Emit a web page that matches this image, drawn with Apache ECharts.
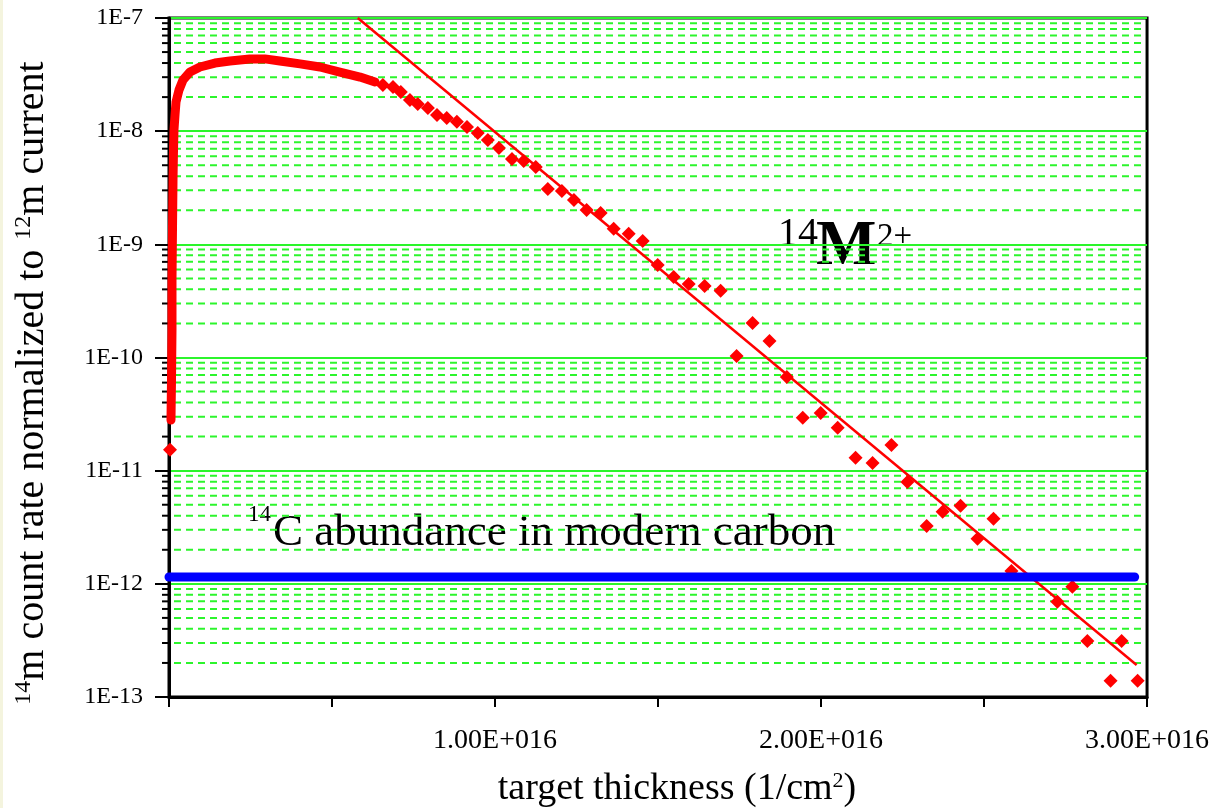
<!DOCTYPE html>
<html>
<head>
<meta charset="utf-8">
<script src="https://cdn.jsdelivr.net/npm/echarts@6/dist/echarts.min.js"></script>
<style>
html,body{margin:0;padding:0;background:#ffffff;}
#chart{width:1212px;height:808px;}
</style>
</head>
<body>
<div id="chart"></div>
<script>
// ---- data ----
const xMin = 0, xMax = 3e16, xStep = 5e15;
const yMin = 1e-13, yMax = 1e-7;
const minorMultipliers = [2, 3, 4, 5, 6, 7, 8, 9];
const decades = [1e-13, 1e-12, 1e-11, 1e-10, 1e-9, 1e-8];

// dense measured curve (overlapping markers near the start)
const curveX = [6.1e13, 7.7e13, 9.2e13, 9.2e13, 1.07e14, 1.23e14, 1.38e14, 1.53e14, 1.84e14, 2.15e14, 3.07e14, 4.29e14, 6.44e14, 9.5e14, 1.41e15, 1.87e15, 2.48e15, 2.94e15, 3.40e15, 4.02e15, 4.63e15, 5.24e15, 5.86e15, 6.32e15];
const curveY = [2.8e-11, 6.3e-11, 1.75e-10, 4.85e-10, 1.34e-9, 3.7e-9, 6.8e-9, 1.03e-8, 1.39e-8, 1.81e-8, 2.31e-8, 2.83e-8, 3.33e-8, 3.69e-8, 4.0e-8, 4.17e-8, 4.35e-8, 4.35e-8, 4.17e-8, 3.93e-8, 3.69e-8, 3.33e-8, 3.01e-8, 2.72e-8];

// discrete measured points (diamonds), x in units of 1E16
const dotX16 = [0.0031,0.656,0.687,0.711,0.739,0.763,0.794,0.822,0.852,0.883,0.914,0.947,0.978,1.012,1.052,1.088,1.125,1.162,1.205,1.242,1.281,1.324,1.364,1.410,1.453,1.499,1.548,1.594,1.643,1.692,1.741,1.790,1.842,1.895,1.944,1.999,2.051,2.106,2.158,2.216,2.265,2.324,2.373,2.428,2.480,2.529,2.584,2.725,2.771,2.817,2.888,2.922,2.971];
const dotY = [1.53e-11,2.56e-8,2.46e-8,2.22e-8,1.89e-8,1.74e-8,1.60e-8,1.39e-8,1.31e-8,1.21e-8,1.09e-8,9.64e-9,8.36e-9,7.11e-9,5.68e-9,5.46e-9,4.83e-9,3.08e-9,2.96e-9,2.47e-9,2.01e-9,1.89e-9,1.37e-9,1.24e-9,1.07e-9,6.58e-10,5.15e-10,4.47e-10,4.29e-10,3.88e-10,1.03e-10,2.02e-10,1.40e-10,6.74e-11,2.93e-11,3.24e-11,2.39e-11,1.30e-11,1.17e-11,1.69e-11,7.96e-12,3.25e-12,4.33e-12,4.89e-12,2.50e-12,3.75e-12,1.30e-12,6.93e-13,9.40e-13,3.13e-13,1.39e-13,3.13e-13,1.39e-13];

// exponential fit line (end points)
const fitX = [0.579e16, 2.968e16];
const fitY = [1e-7, 1.92e-13];

// 14C abundance in modern carbon
const abundX = [0, 2.962e16];
const abundY = [1.15e-12, 1.15e-12];

const xTickLabels = {1: '1.00E+016', 2: '2.00E+016', 3: '3.00E+016'};

// ---- build ----
const pairs = (xs, ys) => xs.map((x, i) => [x, ys[i]]);
const minorValues = [];
decades.forEach(d => minorMultipliers.forEach(m => minorValues.push([0, d * m])));

const FONT = 'Liberation Serif';
const GREEN = '#2cf52c';

const chart = echarts.init(document.getElementById('chart'), null, {renderer: 'canvas'});
chart.setOption({
  animation: false,
  backgroundColor: '#ffffff',
  grid: {left: 169, top: 18, width: 979, height: 679, show: true, backgroundColor: '#ffffff', borderColor: '#000', borderWidth: 3},
  xAxis: {
    type: 'value', min: xMin, max: xMax, interval: xStep,
    axisLine: {show: true, lineStyle: {color: '#000', width: 3}},
    axisTick: {show: true, inside: false, length: 10, lineStyle: {color: '#000', width: 2}},
    splitLine: {show: false},
    axisLabel: {
      margin: 30, fontFamily: FONT, fontSize: 28, color: '#000',
      formatter: v => { const k = Math.round(v / 1e16); return (Math.abs(v / 1e16 - k) < 1e-9 && xTickLabels[k]) ? xTickLabels[k] : ''; }
    }
  },
  yAxis: {
    type: 'log', logBase: 10, min: yMin, max: yMax,
    axisLine: {show: true, lineStyle: {color: '#000', width: 3}},
    axisTick: {show: true, inside: false, length: 14, lineStyle: {color: '#000', width: 2}},
    minorTick: {show: false},
    splitLine: {show: true, lineStyle: {color: GREEN, width: 2, type: 'solid'}},
    axisLabel: {
      margin: 26, fontFamily: FONT, fontSize: 24, color: '#000',
      formatter: v => '1E' + Math.round(Math.log10(v))
    }
  },
  graphic: [
    {type: 'rect', left: 0, top: 0, shape: {width: 3, height: 808}, style: {fill: '#f4f4de'}},
    {type: 'text', x: 32, y: 383, rotation: Math.PI / 2,
      style: {text: '{s|14}m count rate normalized to {s|12}m current', fill: '#000', align: 'center', verticalAlign: 'middle',
        fontSize: 40, fontFamily: FONT,
        rich: {s: {fontSize: 24, fontFamily: FONT, verticalAlign: 'top', lineHeight: 40, fill: '#000'}}}},
    {type: 'text', x: 677, y: 789,
      style: {text: 'target thickness (1/cm{s|2})', fill: '#000', align: 'center', verticalAlign: 'middle',
        fontSize: 38, fontFamily: FONT,
        rich: {s: {fontSize: 22, fontFamily: FONT, verticalAlign: 'top', lineHeight: 38, fill: '#000'}}}},
    {type: 'text', x: 778, y: 234.5, style: {text: '14', fill: '#000', fontSize: 40, fontFamily: FONT, verticalAlign: 'middle', align: 'left'}},
    {type: 'text', x: 816, y: 247, style: {text: 'M', fill: '#000', fontSize: 64, fontWeight: 'bold', fontFamily: FONT, verticalAlign: 'middle', align: 'left'}},
    {type: 'text', x: 877, y: 237, style: {text: '2+', fill: '#000', fontSize: 33, fontFamily: FONT, verticalAlign: 'middle', align: 'left'}},
    {type: 'text', x: 248, y: 515, style: {text: '14', fill: '#000', fontSize: 23, fontFamily: FONT, verticalAlign: 'middle', align: 'left'}},
    {type: 'text', x: 273, y: 533.5, style: {text: 'C abundance in modern carbon', fill: '#000', fontSize: 45, fontFamily: FONT, verticalAlign: 'middle', align: 'left'}}
  ],
  series: [
    {
      type: 'custom', name: 'minor', data: minorValues, clip: false, z: 1, silent: true,
      renderItem: (params, api) => {
        const v = api.value(1);
        const p0 = api.coord([xMin, v]);
        const p1 = api.coord([xMax, v]);
        return {type: 'group', children: [
          {type: 'line', shape: {x1: p0[0] + 5, y1: p0[1], x2: p1[0] - 2, y2: p1[1]}, style: {stroke: GREEN, lineWidth: 2, lineDash: [7, 5]}},
          {type: 'line', shape: {x1: p0[0] - 7, y1: p0[1], x2: p0[0], y2: p0[1]}, style: {stroke: '#000', lineWidth: 2}}
        ]};
      }
    },
    {
      type: 'line', name: 'curve', data: pairs(curveX, curveY), showSymbol: false, symbol: 'none', z: 3,
      lineStyle: {color: '#ff0000', width: 9, join: 'round', cap: 'round'}
    },
    {
      type: 'scatter', name: 'points', data: pairs(dotX16.map(v => v * 1e16), dotY), symbol: 'diamond', symbolSize: 14, z: 3,
      itemStyle: {color: '#ff0000', opacity: 1}
    },
    {
      type: 'line', name: 'fit', data: pairs(fitX, fitY), showSymbol: false, symbol: 'none', z: 4,
      lineStyle: {color: '#ff0000', width: 2.5}
    },
    {
      type: 'line', name: 'abundance', data: pairs(abundX, abundY), showSymbol: false, symbol: 'none', z: 5,
      lineStyle: {color: '#0000ff', width: 9, cap: 'round'}
    }
  ]
});
</script>
</body>
</html>
